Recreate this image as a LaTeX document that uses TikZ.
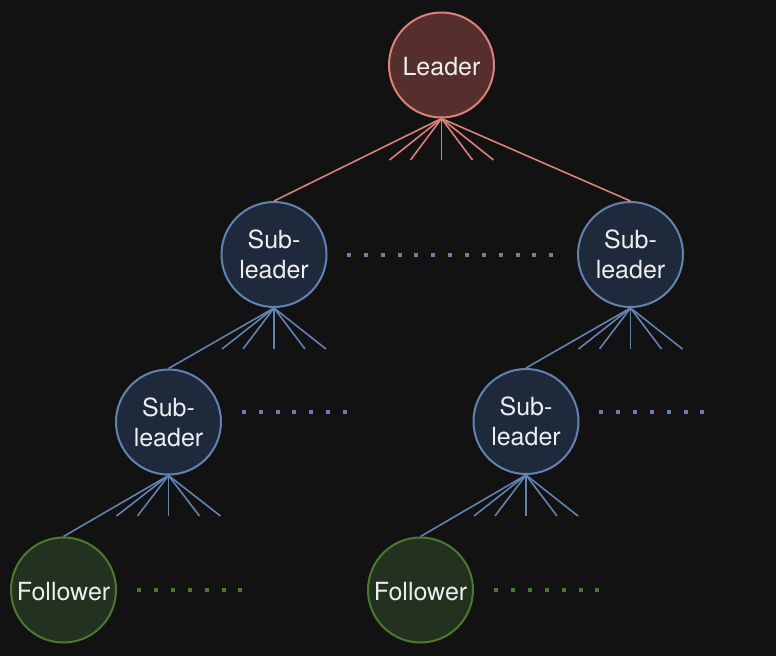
\documentclass[tikz,border=0pt]{standalone}
\usepackage{fontspec}
\setmainfont{TeX Gyre Heros}
\definecolor{bgcol}{HTML}{121212}
\definecolor{leaderfill}{HTML}{562F2D}
\definecolor{leaderline}{HTML}{DB807A}
\definecolor{subfill}{HTML}{1E293C}
\definecolor{subline}{HTML}{6282B2}
\definecolor{followfill}{HTML}{22321F}
\definecolor{followline}{HTML}{4B7A2F}
\definecolor{labeltext}{HTML}{EEEEEE}
\begin{document}
\begin{tikzpicture}[x=1pt,y=-1pt]
	\tikzstyle{none}=[inner sep=0pt]
	\tikzstyle{member}=[circle,line width=2.000,minimum size=105pt,inner sep=0pt,align=center,text=labeltext,font=\fontsize{25}{30}\selectfont]
	\tikzstyle{leader}=[member,draw=leaderline,fill=leaderfill]
	\tikzstyle{subleader}=[member,draw=subline,fill=subfill]
	\tikzstyle{follower}=[member,draw=followline,fill=followfill]
	\tikzstyle{fanred}=[-,draw=leaderline,line width=1.600]
	\tikzstyle{fanblue}=[-,draw=subline,line width=1.600]
	\tikzstyle{dotsblue}=[-,draw=subline,line width=4.000,dash pattern=on 4pt off 12.85pt]
	\tikzstyle{dotsgreen}=[-,draw=followline,line width=4.000,dash pattern=on 4pt off 12.85pt]
	\fill [bgcol] (0, 0) rectangle (776, 656);
	\useasboundingbox (0, 0) rectangle (776, 656);
		\node [style=leader] (0) at (441.5, 65) {\raisebox{-2pt}[\height][\depth]{Leader}};
		\node [style=subleader] (1) at (274, 254.5) {Sub-\\leader};
		\node [style=subleader] (2) at (630.5, 254.5) {Sub-\\leader};
		\node [style=subleader] (3) at (168.5, 422) {Sub-\\leader};
		\node [style=subleader] (4) at (526, 421.5) {Sub-\\leader};
		\node [style=follower] (5) at (63.5, 590) {\raisebox{-2pt}[\height][\depth]{Follower}};
		\node [style=follower] (6) at (420.5, 590) {\raisebox{-2pt}[\height][\depth]{Follower}};

		\node [style=none] (7) at (389.5, 160) {};
		\node [style=none] (8) at (410.5, 160) {};
		\node [style=none] (9) at (441.5, 160) {};
		\node [style=none] (10) at (472.5, 160) {};
		\node [style=none] (11) at (493.5, 160) {};
		\node [style=none] (12) at (222, 349) {};
		\node [style=none] (13) at (243, 349) {};
		\node [style=none] (14) at (274, 349) {};
		\node [style=none] (15) at (305, 349) {};
		\node [style=none] (16) at (326, 349) {};
		\node [style=none] (17) at (578.5, 349) {};
		\node [style=none] (18) at (599.5, 349) {};
		\node [style=none] (19) at (630.5, 349) {};
		\node [style=none] (20) at (661.5, 349) {};
		\node [style=none] (21) at (682.5, 349) {};
		\node [style=none] (22) at (116.5, 516) {};
		\node [style=none] (23) at (137.5, 516) {};
		\node [style=none] (24) at (168.5, 516) {};
		\node [style=none] (25) at (199.5, 516) {};
		\node [style=none] (26) at (220.5, 516) {};
		\node [style=none] (27) at (474, 516) {};
		\node [style=none] (28) at (495, 516) {};
		\node [style=none] (29) at (526, 516) {};
		\node [style=none] (30) at (557, 516) {};
		\node [style=none] (31) at (578, 516) {};
		\node [style=none] (32) at (347, 254.5) {};
		\node [style=none] (33) at (553.2, 254.5) {};
		\node [style=none] (34) at (241.8, 412) {};
		\node [style=none] (35) at (348, 412) {};
		\node [style=none] (36) at (599.3, 412) {};
		\node [style=none] (37) at (705.5, 412) {};
		\node [style=none] (38) at (137.3, 590) {};
		\node [style=none] (39) at (243.5, 590) {};
		\node [style=none] (40) at (494.3, 590) {};
		\node [style=none] (41) at (600.5, 590) {};

		\draw [style=fanred] (0.south) to (1.north);
		\draw [style=fanred] (0.south) to (2.north);
		\draw [style=fanred] (0.south) to (7.center);
		\draw [style=fanred] (0.south) to (8.center);
		\draw [style=fanred] (0.south) to (9.center);
		\draw [style=fanred] (0.south) to (10.center);
		\draw [style=fanred] (0.south) to (11.center);
		\draw [style=fanblue] (1.south) to (3.north);
		\draw [style=fanblue] (1.south) to (12.center);
		\draw [style=fanblue] (1.south) to (13.center);
		\draw [style=fanblue] (1.south) to (14.center);
		\draw [style=fanblue] (1.south) to (15.center);
		\draw [style=fanblue] (1.south) to (16.center);
		\draw [style=fanblue] (2.south) to (4.north);
		\draw [style=fanblue] (2.south) to (17.center);
		\draw [style=fanblue] (2.south) to (18.center);
		\draw [style=fanblue] (2.south) to (19.center);
		\draw [style=fanblue] (2.south) to (20.center);
		\draw [style=fanblue] (2.south) to (21.center);
		\draw [style=fanblue] (3.south) to (5.north);
		\draw [style=fanblue] (3.south) to (22.center);
		\draw [style=fanblue] (3.south) to (23.center);
		\draw [style=fanblue] (3.south) to (24.center);
		\draw [style=fanblue] (3.south) to (25.center);
		\draw [style=fanblue] (3.south) to (26.center);
		\draw [style=fanblue] (4.south) to (6.north);
		\draw [style=fanblue] (4.south) to (27.center);
		\draw [style=fanblue] (4.south) to (28.center);
		\draw [style=fanblue] (4.south) to (29.center);
		\draw [style=fanblue] (4.south) to (30.center);
		\draw [style=fanblue] (4.south) to (31.center);
		\draw [style=dotsblue] (32.center) to (33.center);
		\draw [style=dotsblue] (34.center) to (35.center);
		\draw [style=dotsblue] (36.center) to (37.center);
		\draw [style=dotsgreen] (38.center) to (39.center);
		\draw [style=dotsgreen] (40.center) to (41.center);

\end{tikzpicture}
\end{document}
